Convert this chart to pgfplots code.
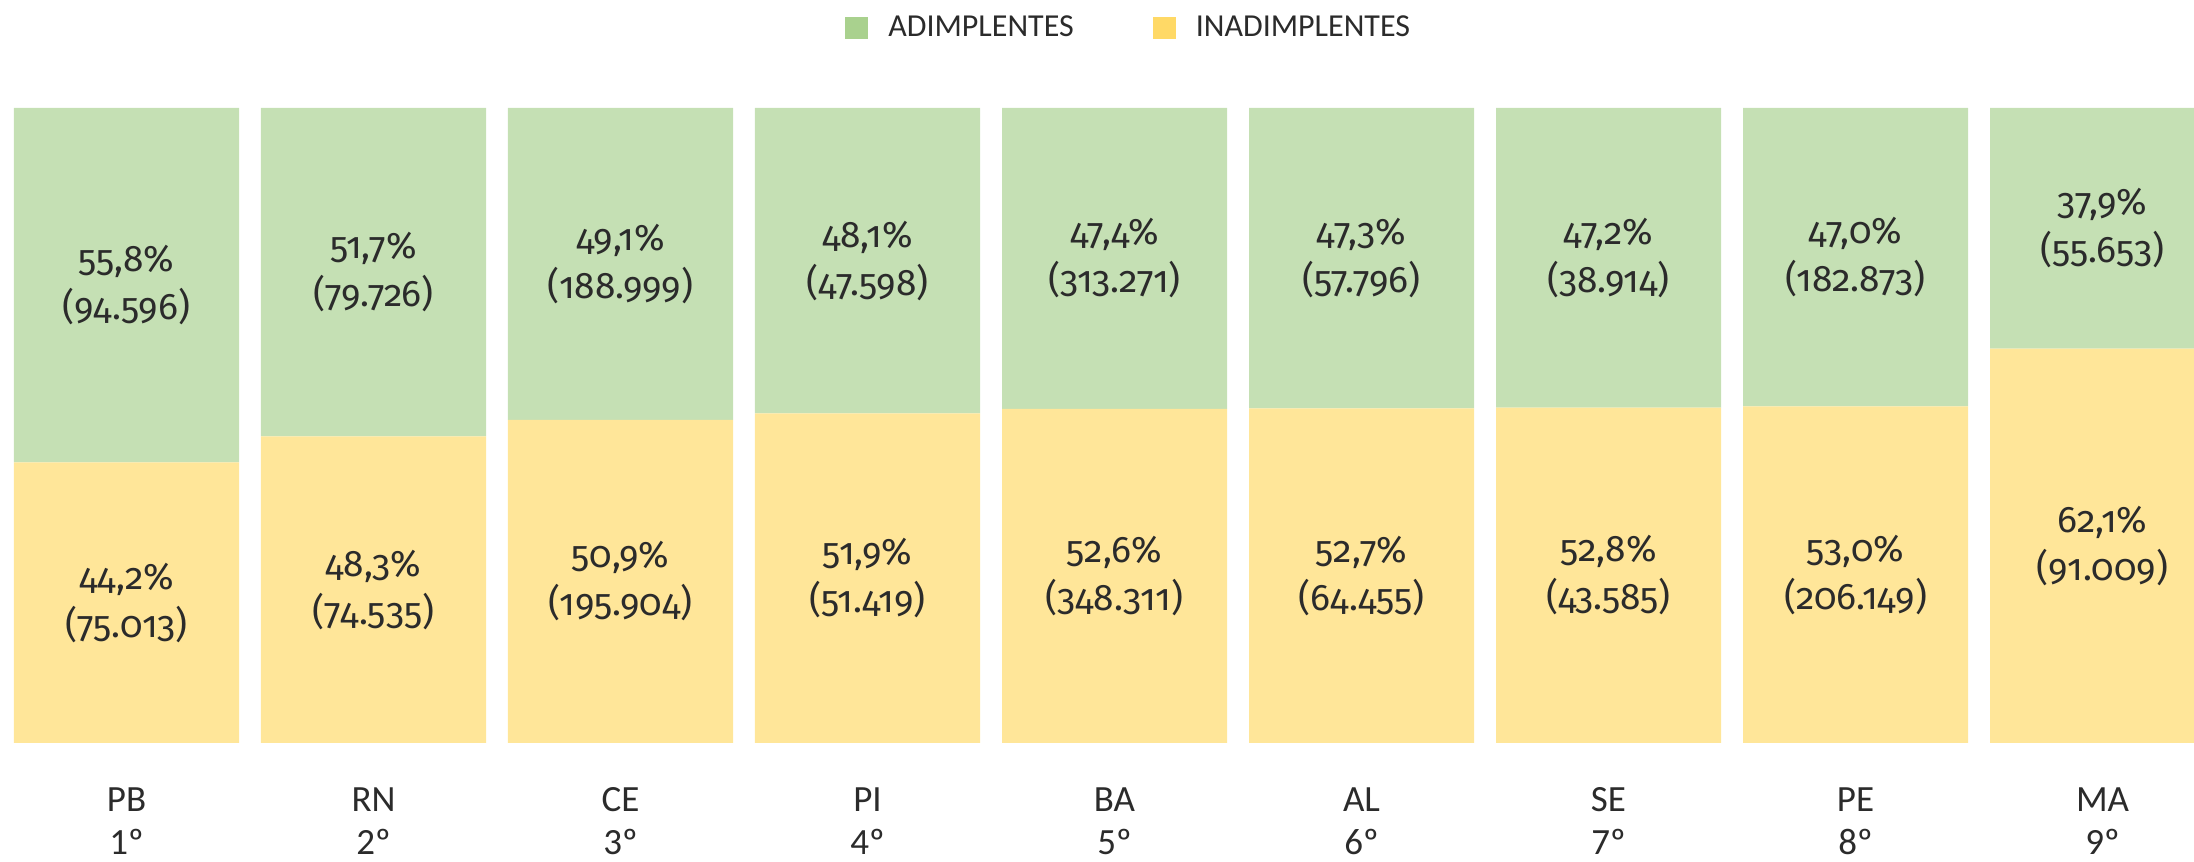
\documentclass[border=0pt]{standalone}
\usepackage{fontspec}
\setmainfont{Carlito}
\newfontfamily\valfont{Fira Sans}[Numbers=OldStyle]
\usepackage{pgfplots}
\pgfplotsset{compat=1.18}
\definecolor{gA}{HTML}{C5E0B4}
\definecolor{yA}{HTML}{FFE699}
\definecolor{gL}{HTML}{A9D18E}
\definecolor{yL}{HTML}{FFD966}
\definecolor{txt}{HTML}{2B2B2B}
\pgfplotsset{
  base/.style={
    scale only axis, width=1097pt, height=317.5pt,
    xmin=-0.5121, xmax=8.3704, ymin=0, ymax=100,
    axis line style={draw=none}, major tick length=0pt,
    ytick=\empty,
  }
}
\begin{document}
\begin{tikzpicture}
\begin{axis}[base,
  ybar stacked, bar width=0.911,
  xtick={0,...,8},
  xticklabels={{PB\\1º},{RN\\2º},{CE\\3º},{PI\\4º},{BA\\5º},{AL\\6º},{SE\\7º},{PE\\8º},{MA\\9º}},
  xticklabel style={align=center, anchor=base, yshift=-56pt,
    font=\fontsize{18.5}{21.5}\selectfont, text=txt},
  reverse legend,
  legend columns=2,
  legend style={at={(0.3851,1)}, anchor=west, yshift=40pt, draw=none, fill=none,
    inner sep=0pt, font=\fontsize{16}{19}\selectfont, text=txt,
    nodes={inner xsep=0pt},
    /tikz/every odd column/.append style={column sep=10pt},
    /tikz/every even column/.append style={column sep=39.5pt}},
]
\addplot[fill=yA, draw=none,
  legend image code/.code={\fill[yL] (0pt,-5.5pt) rectangle (11.5pt,5.5pt);}]
  coordinates {(0,44.2) (1,48.3) (2,50.9) (3,51.9) (4,52.6) (5,52.7) (6,52.8) (7,53.0) (8,62.1)};
\addlegendentry{INADIMPLENTES}
\addplot[fill=gA, draw=none,
  legend image code/.code={\fill[gL] (0pt,-5.5pt) rectangle (11.5pt,5.5pt);}]
  coordinates {(0,55.8) (1,51.7) (2,49.1) (3,48.1) (4,47.4) (5,47.3) (6,47.2) (7,47.0) (8,37.9)};
\addlegendentry{ADIMPLENTES}
\end{axis}
\begin{axis}[base, xtick=\empty]
\addplot[draw=none, nodes near coords, point meta=explicit symbolic,
  nodes near coords style={anchor=center, align=center,
    font=\valfont\fontsize{18.5}{24}\selectfont, text=txt}]
  coordinates {
  (0,22.1) [{44,2\%\\(75.013)}]
  (1,24.15) [{48,3\%\\(74.535)}]
  (2,25.45) [{50,9\%\\(195.904)}]
  (3,25.95) [{51,9\%\\(51.419)}]
  (4,26.3) [{52,6\%\\(348.311)}]
  (5,26.35) [{52,7\%\\(64.455)}]
  (6,26.4) [{52,8\%\\(43.585)}]
  (7,26.5) [{53,0\%\\(206.149)}]
  (8,31.05) [{62,1\%\\(91.009)}]
  (0,72.1) [{55,8\%\\(94.596)}]
  (1,74.15) [{51,7\%\\(79.726)}]
  (2,75.45) [{49,1\%\\(188.999)}]
  (3,75.95) [{48,1\%\\(47.598)}]
  (4,76.3) [{47,4\%\\(313.271)}]
  (5,76.35) [{47,3\%\\(57.796)}]
  (6,76.4) [{47,2\%\\(38.914)}]
  (7,76.5) [{47,0\%\\(182.873)}]
  (8,81.05) [{37,9\%\\(55.653)}]
  };
\end{axis}
\pgfresetboundingbox
\path[use as bounding box] ([yshift=-59.5pt]current axis.south west) rectangle ([yshift=54pt]current axis.north east);
\end{tikzpicture}
\end{document}
